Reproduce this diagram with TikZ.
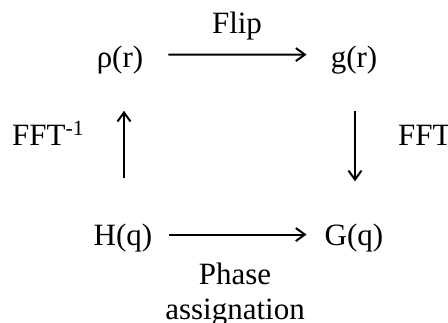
\documentclass[tikz,border=0pt]{standalone}
\usepackage{fontspec}
\setmainfont{Liberation Serif}
\usetikzlibrary{arrows.meta}
\begin{document}
\begin{tikzpicture}[x=1pt,y=-1pt,
  lbl/.style={inner sep=0pt, font=\fontsize{31}{35}\selectfont},
  arr/.style={line width=2pt, -{Straight Barb[length=9pt,width=13pt,line width=2pt]}}]
\useasboundingbox (0,0) rectangle (448,322);
\node[lbl, anchor=base] (rho) at (120,67) {ρ(r)};
\node[lbl, anchor=base] (g) at (354,67) {g(r)};
\node[lbl, anchor=base] (H) at (123,245) {H(q)};
\node[lbl, anchor=base] (G) at (354,245) {G(q)};
\node[lbl, anchor=base] (flip) at (237,33) {Flip};
\node[lbl, anchor=base west] (ffti) at (12,145) {FFT\textsuperscript{-1}};
\node[lbl, anchor=base west] (fft) at (398,145) {FFT};
\node[lbl, anchor=base, align=center] (phase) at (235,319) {Phase\\assignation};
\draw[arr, shorten <=25pt, shorten >=24pt] ([yshift=5pt]rho.east) -- ([yshift=5pt]g.west);
\draw[arr, shorten <=17pt, shorten >=18pt] ([yshift=3pt]H.east) -- ([yshift=3pt]G.west);
\draw[arr, shorten <=45pt, shorten >=37pt] ([xshift=1pt]H.north) -- ([xshift=1pt]H.north |- rho.south);
\draw[arr, shorten <=37pt, shorten >=42pt] ([xshift=1pt]g.south) -- ([xshift=1pt]g.south |- G.north);
\end{tikzpicture}
\end{document}
